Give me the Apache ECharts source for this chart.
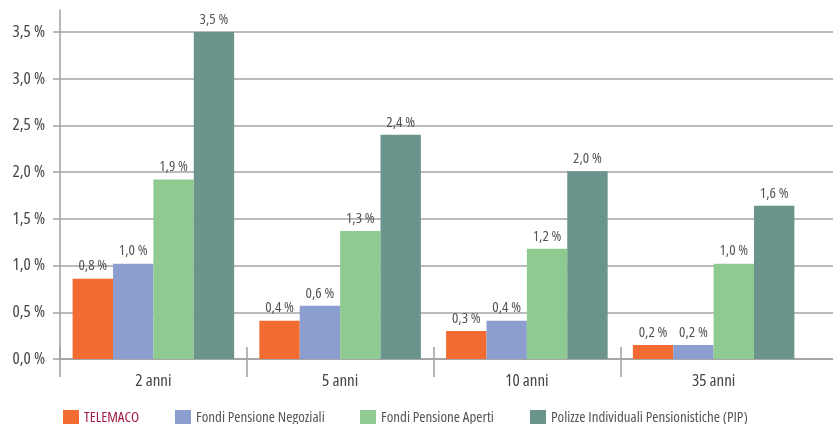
<!DOCTYPE html>
<html>
<head>
    <meta charset="utf-8">
    <script src="https://cdn.jsdelivr.net/npm/echarts@6/dist/echarts.min.js"></script>
    <style>
        html, body { margin: 0; padding: 0; background: #fff; }
        #chart { width: 833px; height: 424px; }
    </style>
</head>
<body>
    <div id="chart"></div>
</body>
</html>

<script type="text/javascript">
    let categories = ['2 anni', '5 anni', '10 anni', '35 anni']
    let seriesNames = ['TELEMACO', 'Fondi Pensione Negoziali', 'Fondi Pensione Aperti', 'Polizze Individuali Pensionistiche (PIP)']

    // bar heights
    let telemaco = [0.86, 0.41, 0.30, 0.15]
    let negoziali = [1.02, 0.57, 0.41, 0.15]
    let aperti = [1.92, 1.37, 1.18, 1.02]
    let pip = [3.50, 2.40, 2.01, 1.64]

    // labels printed above the bars
    let telemacoLabels = ['0,8 %', '0,4 %', '0,3 %', '0,2 %']
    let negozialiLabels = ['1,0 %', '0,6 %', '0,4 %', '0,2 %']
    let apertiLabels = ['1,9 %', '1,3 %', '1,2 %', '1,0 %']
    let pipLabels = ['3,5 %', '2,4 %', '2,0 %', '1,6 %']

    let yTicks = [0, 0.5, 1, 1.5, 2, 2.5, 3, 3.5]

    let colors = ['#f26b30', '#8c9ecf', '#8fcb91', '#6a948c']
    let legendLeft = [58, 170, 355, 525]

    // Open Sans has a condensed face; the stretch keyword ends up in the canvas font string via fontWeight
    let font = '"Open Sans", "Liberation Sans", sans-serif'
    let txt = (size, color) => ({ fontFamily: font, fontWeight: 'condensed', fontSize: size, color: color })

    let values = [telemaco, negoziali, aperti, pip]
    let labels = [telemacoLabels, negozialiLabels, apertiLabels, pipLabels]

    let gridLeft = 60, gridRight = 26, gridTop = 10, gridBottom = 65
    let plotW = 833 - gridLeft - gridRight
    // extra headroom so the y axis line runs above the last tick
    let yMax = 3.5 * 349 / 327
    // full-width frame measured in category bands
    let xMaxFrame = (833 - gridLeft) / (plotW / categories.length)
    let bandEdges = categories.map((c, i) => i)

    let gridColors = yTicks.map(() => '#a5a5a5')
    gridColors.push('rgba(0,0,0,0)')
    let lineColor = '#a0a0a0'

    let series = seriesNames.map((name, i) => ({
        name: name,
        type: 'bar',
        xAxisIndex: 2,
        yAxisIndex: 1,
        data: values[i],
        barGap: 0,
        barCategoryGap: '13.5%',
        itemStyle: { color: colors[i] },
        label: Object.assign({
            show: true,
            position: 'top',
            distance: 5,
            formatter: p => labels[i][p.dataIndex]
        }, txt(15, '#555'))
    }))

    let legends = seriesNames.map((n, i) => ({
        left: legendLeft[i],
        top: 405,
        itemWidth: 16,
        itemHeight: 16,
        itemGap: 6,
        icon: 'rect',
        data: [n],
        textStyle: txt(15, i === 0 ? '#a01d42' : '#555')
    }))

    let myChart = echarts.init(document.getElementById('chart'))
    let option = {
        animation: false,
        grid: [
            { left: gridLeft, right: 0, top: gridTop, bottom: gridBottom },
            { left: gridLeft, right: gridRight, top: gridTop, bottom: gridBottom },
            { left: gridLeft, right: 0, top: gridTop, bottom: gridBottom }
        ],
        legend: legends,
        xAxis: [
            {
                type: 'value',
                gridIndex: 0,
                min: 0,
                max: xMaxFrame,
                axisLine: { show: true, lineStyle: { color: lineColor, width: 1.5 } },
                axisTick: { show: true, length: 18, customValues: bandEdges, lineStyle: { color: lineColor, width: 1.5 } },
                axisLabel: { show: false },
                splitLine: { show: false }
            },
            {
                type: 'value',
                gridIndex: 2,
                position: 'bottom',
                min: 0,
                max: xMaxFrame,
                axisLine: { show: false },
                axisTick: { show: true, inside: true, length: 12, customValues: bandEdges, lineStyle: { color: lineColor, width: 1.5 } },
                axisLabel: { show: false },
                splitLine: { show: false }
            },
            {
                type: 'category',
                gridIndex: 1,
                data: categories,
                axisLine: { show: false },
                axisTick: { show: false },
                axisLabel: Object.assign({ margin: 14 }, txt(17, '#444'))
            }
        ],
        yAxis: [
            {
                type: 'value',
                gridIndex: 0,
                min: 0,
                max: yMax,
                interval: 0.5,
                axisLine: { show: true, lineStyle: { color: lineColor, width: 1.5 } },
                axisTick: { show: true, length: 7, lineStyle: { color: lineColor, width: 1.5 } },
                axisLabel: Object.assign({
                    margin: 15,
                    showMaxLabel: false,
                    formatter: v => yTicks.indexOf(Math.round(v * 10) / 10) >= 0 ? v.toFixed(1).replace('.', ',') + ' %' : ''
                }, txt(17, '#444')),
                splitLine: { show: true, lineStyle: { color: gridColors, width: 1.5 } }
            },
            {
                type: 'value',
                gridIndex: 1,
                min: 0,
                max: yMax,
                show: false
            },
            {
                type: 'value',
                gridIndex: 2,
                min: 0,
                max: yMax,
                show: false
            }
        ],
        series: series
    }
    myChart.setOption(option)
</script>
